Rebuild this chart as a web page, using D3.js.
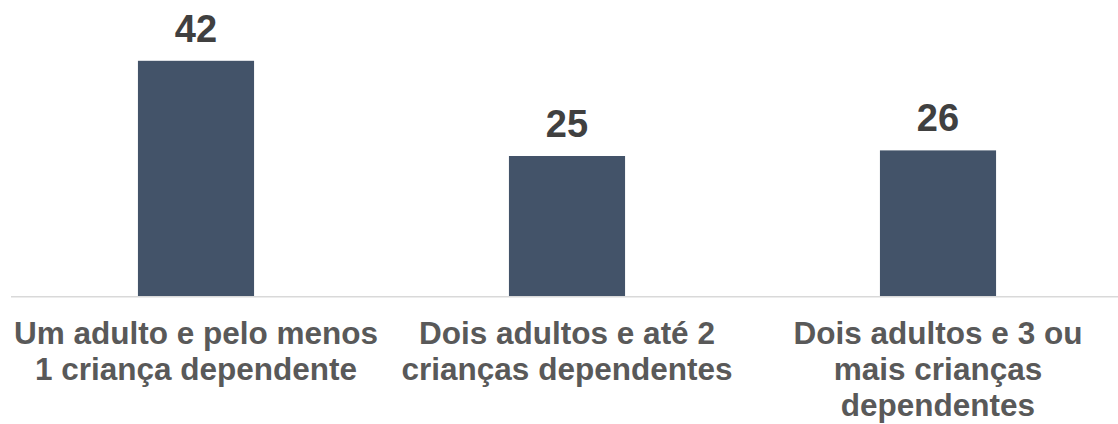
<!DOCTYPE html>
<html>
<head>
<meta charset="utf-8">
<script src="https://cdn.jsdelivr.net/npm/d3@7"></script>
<style>
html,body{margin:0;padding:0;background:#fff;}
svg{display:block;font-family:"Liberation Sans",Arial,sans-serif;}
</style>
</head>
<body>
<svg id="chart" width="1118" height="424"></svg>
<script>
const categories = [
  ["Um adulto e pelo menos", "1 criança dependente"],
  ["Dois adultos e até 2", "crianças dependentes"],
  ["Dois adultos e 3 ou", "mais crianças", "dependentes"]
];
const values = [42, 25, 26];

const svg = d3.select("#chart");
const x = d3.scaleBand().domain(d3.range(values.length)).range([10.5, 1123.5]).paddingInner(0.687).paddingOuter(0.3435);
const y = d3.scaleLinear().domain([0, 50]).range([296, 16]);

svg.append("g").selectAll("rect").data(values).join("rect")
  .attr("x", (d,i) => x(i))
  .attr("width", x.bandwidth())
  .attr("y", d => y(d))
  .attr("height", d => y(0) - y(d))
  .attr("fill", "#435369");

svg.append("line")
  .attr("x1", 11).attr("x2", 1118)
  .attr("y1", y(0) + 0.75).attr("y2", y(0) + 0.75)
  .attr("stroke", "#d9d9d9").attr("stroke-width", 1.5);

svg.append("g").selectAll("text").data(values).join("text")
  .attr("x", (d,i) => x(i) + x.bandwidth()/2)
  .attr("y", d => y(d) - 19)
  .attr("text-anchor", "middle")
  .attr("font-size", 38)
  .attr("font-weight", "bold")
  .attr("fill", "#404040")
  .text(d => d);

const lab = svg.append("g").selectAll("text").data(categories).join("text")
  .attr("x", (d,i) => x(i) + x.bandwidth()/2)
  .attr("y", 344)
  .attr("text-anchor", "middle")
  .attr("font-size", 31.5)
  .attr("font-weight", "bold")
  .attr("fill", "#595959");
lab.each(function(lines, i) {
  const t = d3.select(this);
  lines.forEach((l, j) => {
    t.append("tspan").attr("x", x(i) + x.bandwidth()/2).attr("y", 344 + j*35.8).text(l);
  });
});
</script>
</body>
</html>
